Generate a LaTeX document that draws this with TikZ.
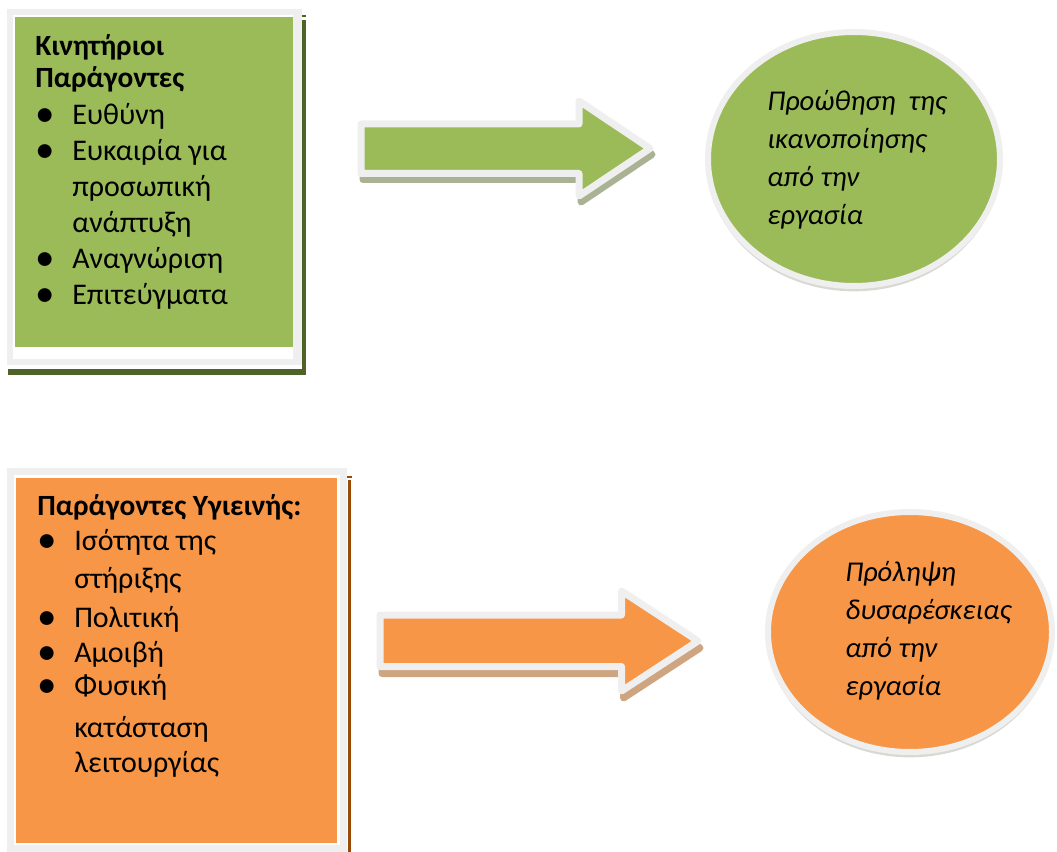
\documentclass[tikz,border=0pt]{standalone}
\usepackage{fontspec}
\setmainfont{Carlito}
\usetikzlibrary{shapes.geometric, shadows, positioning}

\definecolor{leaf}{HTML}{9BBB59}
\definecolor{peach}{HTML}{F79646}
\definecolor{rim}{HTML}{EFEFEF}
\definecolor{olive}{HTML}{4F6228}
\definecolor{rust}{HTML}{984807}
\definecolor{leafshade}{HTML}{A9B292}
\definecolor{peachshade}{HTML}{CFA581}
\definecolor{ringshade}{HTML}{D8D9D3}

\newcommand\blt{\makebox[27.75pt][l]{\raisebox{-1.5pt}{\scalebox{1.3}{\textbullet}}}}
\newcommand\ind{\hspace*{27.75pt}}
\newcommand\hd[1]{{\fontsize{22}{27}\selectfont\bfseries #1}}

\begin{document}
\begin{tikzpicture}[
  x=0.75pt, y=-0.75pt,
  % base = baseline of the last line
  listtext/.style={anchor=base west, align=left, inner sep=0pt, font=\fontsize{22.5}{27}\selectfont},
  bubbletext/.style={anchor=base west, align=left, inner sep=0pt, font=\fontsize{21.5}{28.5}\selectfont\itshape},
  bubble/.style={ellipse, draw=rim, line width=4.5pt, inner sep=0pt,
    drop shadow={shadow xshift=0pt, shadow yshift=-4pt, fill=ringshade, opacity=1}},
  blockarrow/.style={draw=rim, line width=5.25pt, line join=round},
]
\useasboundingbox (0,0) rectangle (1057,852);

% motivation panel
\fill[olive] (302,20) rectangle (306,375);
\fill[olive] (302,15) rectangle (306,17);
\fill[olive] (8,369) rectangle (306,375);
\fill[rim] (7,9) rectangle (302,365);
\fill[white] (13,15) rectangle (293,359);
\fill[leaf] (15,17) rectangle (293,347);
\node[listtext] (motiv) at (35,305) {%
  \hd{Κινητήριοι}\\[-3pt]
  \hd{Παράγοντες}\\[0.75pt]
  \blt Ευθύνη\\
  \blt Ευκαιρία για\\
  \ind προσωπική\\
  \ind ανάπτυξη\\
  \blt Αναγνώριση\\
  \blt Επιτεύγματα};

% hygiene panel
\fill[rust] (348,480) rectangle (351,852);
\fill[rust] (347,476) rectangle (352,478);
\fill[rim] (7,468) rectangle (347,852);
\fill[white] (14,475) rectangle (340,845);
\fill[peach] (16,478) rectangle (337,843);
\node[listtext] (hygiene) at (37,772) {%
  \hd{Παράγοντες Υγιεινής:}\\[-0.75pt]
  \blt Ισότητα της\\[1.5pt]
  \ind στήριξης\\[2.25pt]
  \blt Πολιτική\\[-0.75pt]
  \blt Αμοιβή\\[-2.25pt]
  \blt Φυσική\\[4.5pt]
  \ind κατάσταση\\[-0.75pt]
  \ind λειτουργίας};

% arrows
\draw[blockarrow, draw=leafshade, fill=leafshade, shift={(2,6)}]
  (361,124) -- (579,124) -- (579,101) -- (650,148.5) -- (579,196) -- (579,173.5) -- (361,173.5) -- cycle;
\draw[blockarrow, fill=leaf]
  (361,124) -- (579,124) -- (579,101) -- (650,148.5) -- (579,196) -- (579,173.5) -- (361,173.5) -- cycle;
\draw[blockarrow, draw=peachshade, fill=peachshade, shift={(2,7)}]
  (380,615) -- (621.5,615) -- (621.5,591) -- (698,641) -- (621.5,691) -- (621.5,666.5) -- (380,666.5) -- cycle;
\draw[blockarrow, fill=peach]
  (380,615) -- (621.5,615) -- (621.5,591) -- (698,641) -- (621.5,691) -- (621.5,666.5) -- (380,666.5) -- cycle;

% outcome ellipses
\node[bubble, fill=leaf, minimum width=219pt, minimum height=190.5pt] (promote) at (854,159) {};
\node[bubbletext] (promotetext) at (767,225) {Προώθηση~~της\\ ικανοποίησης\\ από την\\ εργασία};
\node[bubble, fill=peach, minimum width=213pt, minimum height=180pt] (prevent) at (910,632) {};
\node[bubbletext] (preventtext) at (845,695) {Πρόληψη\\ δυσαρέσκειας\\ από την\\ εργασία};
\end{tikzpicture}
\end{document}
